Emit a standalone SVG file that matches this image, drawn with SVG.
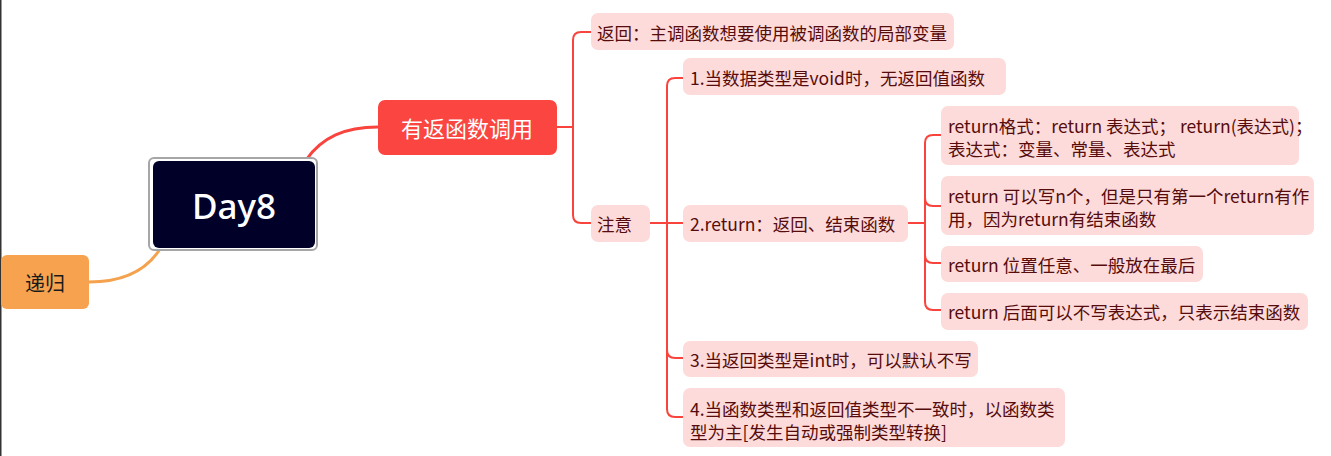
<svg xmlns="http://www.w3.org/2000/svg" width="1331" height="456" viewBox="0 0 1331 456">
<style>
text{font-family:"Noto Sans CJK SC","Noto Sans",sans-serif;dominant-baseline:central}
.sub rect{fill:#FDDBDA}
.sub text{font-size:17.5px;fill:#560c0c}
.conn path{fill:none;stroke:#F9443E;stroke-width:2}
</style>
<rect x="0" y="0" width="1331" height="456" fill="#ffffff"/>
<rect x="0" y="0" width="1.5" height="456" fill="#333333"/>
<g id="connectors" class="conn">
<path d="M306,160 C322,137 345,127 378,127" style="stroke-width:3"/>
<path d="M160,249 C146,271 122,282 89,282" style="stroke:#F5A24E;stroke-width:3"/>
<path d="M557,127 H573"/>
<path d="M591,32 H581 Q573,32 573,40 V215 Q573,223 581,223 H591"/>
<path d="M650,223 H683"/>
<path d="M683,78 H675 Q667,78 667,86 V409 Q667,417 675,417 H683"/>
<path d="M667,350 Q667,358 675,358 H683"/>
<path d="M908,223 H925"/>
<path d="M941,135 H933 Q925,135 925,143 V302 Q925,310 933,310 H941"/>
<path d="M925,198 Q925,206 933,206 H941"/>
<path d="M925,255 Q925,263 933,263 H941"/>
</g>
<g id="root">
<rect x="149" y="158" width="168" height="92" rx="5" fill="#ffffff" stroke="#a6a6a6" stroke-width="2"/>
<rect x="153" y="161" width="162" height="87" rx="6" fill="#000028"/>
<text x="234" y="205" font-size="35" font-weight="500" fill="#ffffff" text-anchor="middle" style="font-family:'Noto Sans',sans-serif">Day8</text>
</g>
<g id="node-digui">
<rect x="1" y="255" width="88" height="54" rx="6" fill="#F7A24E"/>
<text x="45" y="282" font-size="20" fill="#1a1a1a" text-anchor="middle">递归</text>
</g>
<g id="node-youfan">
<rect x="378" y="100" width="179" height="55" rx="7" fill="#FA4540"/>
<text x="467" y="127" font-size="22" fill="#ffffff" text-anchor="middle">有返函数调用</text>
</g>
<g id="node-fanhui" class="sub">
<rect x="591" y="13" width="363" height="37" rx="7"/>
<text x="597" y="32">返回：主调函数想要使用被调函数的局部变量</text>
</g>
<g id="node-zhuyi" class="sub">
<rect x="591" y="205" width="59" height="37" rx="7"/>
<text x="597" y="223">注意</text>
</g>
<g id="node-1" class="sub">
<rect x="683" y="58" width="323" height="37" rx="7"/>
<text x="690" y="77">1.当数据类型是void时，无返回值函数</text>
</g>
<g id="node-2" class="sub">
<rect x="683" y="205" width="225" height="37" rx="7"/>
<text x="690" y="223">2.return：返回、结束函数</text>
</g>
<g id="node-3" class="sub">
<rect x="683" y="341" width="295" height="36" rx="7"/>
<text x="690" y="359">3.当返回类型是int时，可以默认不写</text>
</g>
<g id="node-4" class="sub">
<rect x="683" y="388" width="382" height="59" rx="7"/>
<text x="690" y="408">4.当函数类型和返回值类型不一致时，以函数类</text>
<text x="690" y="431">型为主[发生自动或强制类型转换]</text>
</g>
<g id="node-r1" class="sub">
<rect x="941" y="106" width="358" height="59" rx="7"/>
<text x="948" y="125">return格式：return 表达式；  return(表达式)；</text>
<text x="948" y="148">表达式：变量、常量、表达式</text>
</g>
<g id="node-r2" class="sub">
<rect x="941" y="176" width="373" height="59" rx="7"/>
<text x="948" y="195">return 可以写n个，但是只有第一个return有作</text>
<text x="948" y="218">用，因为return有结束函数</text>
</g>
<g id="node-r3" class="sub">
<rect x="941" y="246" width="262" height="36" rx="7"/>
<text x="948" y="264">return 位置任意、一般放在最后</text>
</g>
<g id="node-r4" class="sub">
<rect x="941" y="293" width="367" height="37" rx="7"/>
<text x="948" y="311">return 后面可以不写表达式，只表示结束函数</text>
</g>
</svg>
